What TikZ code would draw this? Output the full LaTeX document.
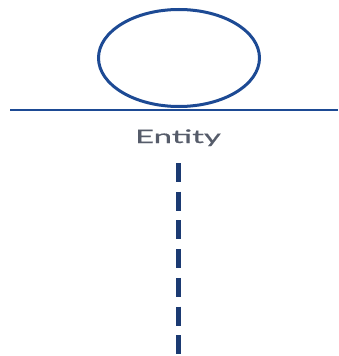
\documentclass[tikz,border=0pt]{standalone}
\usepackage{fontspec}
\setmainfont{Lato}
\newfontfamily\labfont[FakeBold=0.4]{Lato}
\usetikzlibrary{shapes.geometric}
\definecolor{entblue}{HTML}{1D4A94}
\definecolor{lifeblue}{HTML}{1B3A72}
\definecolor{labgray}{HTML}{565C6A}
\tikzset{
  entshape/.style={draw=entblue, ellipse, line width=3pt, inner sep=0pt, minimum width=161pt, minimum height=97pt},
  groundline/.style={draw=entblue, line width=2.6pt},
  lifeline/.style={draw=lifeblue, line width=5pt, dash pattern=on 19pt off 9.7pt},
  entlabel/.style={text=labgray, font=\labfont\fontsize{18.5}{20}\selectfont, xscale=1.78, anchor=base, inner sep=0pt}
}
\begin{document}
\begin{tikzpicture}[x=1pt,y=-1pt]
\useasboundingbox (0,0) rectangle (338,356);
\node[entshape] (ent) at (179,58) {};
\coordinate (gl) at (10,110);
\coordinate (gr) at (338,110);
\draw[groundline] (gl) -- (gr);
\node[entlabel] (lab) at (178,143) {Entity};
\coordinate (lt) at (178,163);
\coordinate (lb) at (178,358);
\draw[lifeline] (lt) -- (lb);
\end{tikzpicture}
\end{document}
